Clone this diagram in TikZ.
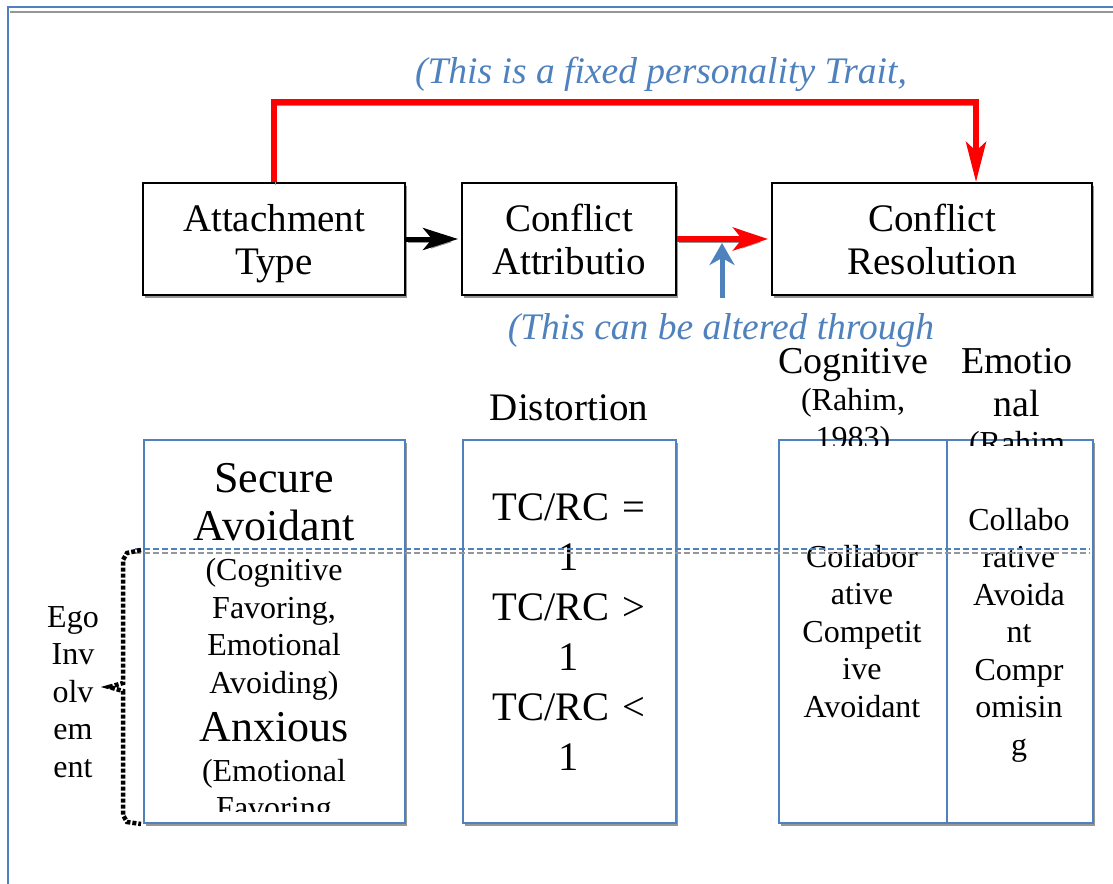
\documentclass[tikz,border=0pt]{standalone}
\usepackage{fontspec}
\setmainfont{Liberation Serif}
\usetikzlibrary{arrows.meta,shadows}
\definecolor{ofblue}{HTML}{4F81BD}
\definecolor{shgray}{HTML}{969696}
\newcommand\bigf{\fontsize{44}{48}\selectfont}
\newcommand\smallf{\fontsize{32}{37.5}\selectfont}
\newcommand\midf{\fontsize{39}{43}\selectfont}
\setlength\parindent{0pt}
\setlength\parskip{0pt}
\begin{document}
\begin{tikzpicture}[x=1pt,y=-1pt,
  shad/.style={drop shadow={shadow xshift=2pt,shadow yshift=-3pt,fill=shgray,opacity=1}},
  topbox/.style={draw=black,line width=2pt,fill=white,inner sep=0pt,align=center,minimum height=112pt,font=\midf,shad},
  colbox/.style={draw=ofblue,line width=2pt,fill=white,inner sep=0pt,minimum height=383pt,anchor=north west,shad},
  coltext/.style={inner sep=0pt,align=center,anchor=base},
  arrshad/.style={preaction={draw=shgray,transform canvas={shift={(1.5pt,-3pt)}}}},
  bluetxt/.style={text=ofblue,font=\fontsize{37.5}{43}\selectfont\itshape,inner sep=0pt,anchor=base},
  dline/.style={line width=1.3pt,dash pattern=on 6pt off 3pt},
]
\useasboundingbox (0,0) rectangle (1113,883);
\clip (0,0) rectangle (1113,883);
% frame
\draw[shgray,line width=2pt] (10,12) -- (1120,12);
\draw[ofblue,line width=2pt] (8,895) -- (8,7) -- (1120,7);
% top boxes
\node[topbox,minimum width=262pt] (attach) at (274,239) {Attachment\\\smash{Type}};
\node[topbox,minimum width=214pt] (attrib) at (569,239) {Conflict\\Attributio};
\node[topbox,minimum width=320pt] (resol) at (932,239) {Conflict\\Resolution};
% bottom boxes
\node[colbox,minimum width=261pt] (secbox) at (143,439) {};
\node[colbox,minimum width=213pt] (distbox) at (462,439) {};
\node[colbox,minimum width=168pt] (cogbox) at (778,439) {};
\node[colbox,minimum width=146pt] (emobox) at (946,439) {};
% blue notes
\node[bluetxt] (fixedtxt) at (661,83) {(This is a fixed personality Trait,};
\node[bluetxt] (altertxt) at (721,339) {(This can be altered through};
% headers
\node[coltext,font=\midf] (disthead) at (569,420) {Distortion};
\begin{scope}
\clip (700,344) rectangle (1113,445);
\node[coltext,text width=200pt] (coghead) at (853,373) {{\fontsize{38}{43}\selectfont Cognitive\par}{\smallf (Rahim,\\1983)\par}};
\node[coltext,text width=160pt] (emohead) at (1017,373) {{\fontsize{38}{43}\selectfont Emotio\\nal\par}{\smallf (Rahim\par}};
\end{scope}
% column texts
\begin{scope}
\clip (143,440) rectangle (404,811);
\node[coltext,text width=258pt] (sectxt) at (274,492) {{\bigf Secure\\Avoidant\par}\vspace{3pt}{\smallf (Cognitive\\Favoring,\\Emotional\\Avoiding)\par}{\bigf Anxious\par}\vspace{2.5pt}{\smallf (Emotional\\Favoring\par}};
\end{scope}
\node[coltext,text width=210pt,font=\fontsize{40.5}{50}\selectfont] (disttxt) at (569,520) {TC/RC =\\1\\TC/RC >\\1\\TC/RC <\\1};
\node[coltext,text width=166pt,font=\smallf] (cogtxt) at (862,567) {Collabor\\ative\\Competit\\ive\\Avoidant};
\node[coltext,text width=144pt,font=\smallf] (emotxt) at (1019,530) {Collabo\\rative\\Avoida\\nt\\Compr\\omisin\\g};
\node[coltext,text width=60pt,font=\smallf] (ego) at (73,627) {Ego\\Inv\\olv\\em\\ent};
% dashed lines
\draw[ofblue,dline] (135,549) -- (1090,549);
\draw[shgray,dline] (135,553) -- (1090,553);
% brace
\draw[line width=4.5pt,dash pattern=on 4pt off 2pt] (141,550) -- (127,553) -- (123,560) -- (123,683) -- (109,687) -- (123,691) -- (123,815) -- (127,822) -- (141,824);
% arrows
\draw[arrshad,line width=5pt,-{Stealth[length=35pt,width=22pt,inset=9pt]},shorten >=3pt] (attach.east) -- (attrib.west);
\draw[arrshad,red,line width=5.5pt,-{Stealth[length=35pt,width=23pt,inset=9pt]},shorten >=3pt] (attrib.east) -- (resol.west);
\draw[arrshad,red,line width=6pt,-{Stealth[length=40pt,width=20pt,inset=9pt]}] (attach.north) -- ++(0,-80) -| ([xshift=44pt]resol.north);
\coordinate (bfoot) at (722,298);
\draw[ofblue,line width=5pt,-{Stealth[length=22pt,width=25pt,inset=7pt]},shorten >=4pt] (bfoot) -- (bfoot |- attrib.east);
\end{tikzpicture}
\end{document}
